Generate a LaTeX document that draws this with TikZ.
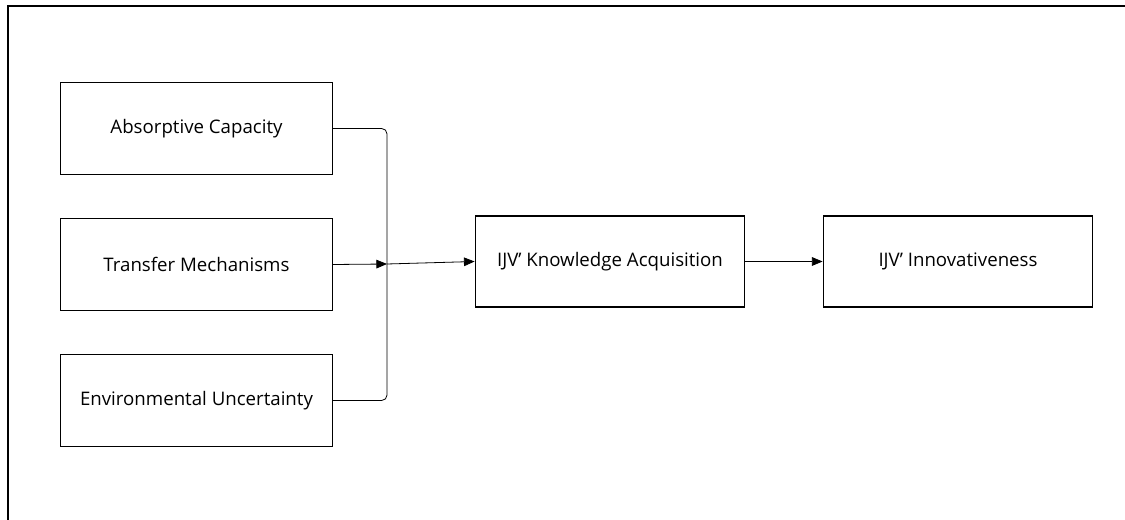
\documentclass[tikz,border=0pt]{standalone}
\usepackage{fontspec}
\setmainfont{Open Sans}
\usetikzlibrary{arrows.meta,positioning}

\tikzset{
  factor/.style = {draw, line width=1.1pt, minimum width=204pt, minimum height=69pt,
                   inner sep=0pt, font=\fontsize{14}{16}\selectfont},
  outcome/.style = {factor, minimum width=202pt, minimum height=68pt},
  link/.style = {line width=0.6pt},
  arrowlink/.style = {link, -{Triangle[length=8pt,width=6.5pt]}}
}

\begin{document}
\begin{tikzpicture}[x=0.75pt, y=-0.75pt, node distance = 102pt, on grid]
   \useasboundingbox (0,0) rectangle (1125,520);
   \draw[line width=1.1pt] (8,530) -- (8,6) -- (1135,6);
   % inputs
   \node[factor] (absorb) at (196.5,128.5) {Absorptive Capacity};
   \node[factor] (transfer) [below = of absorb] {Transfer Mechanisms};
   \node[factor] (environ) [below = of transfer] {Environmental Uncertainty};
   % outcomes
   \node[outcome] (acquire) at (610,261.5) {IJV’ Knowledge Acquisition};
   \node[outcome] (innov) [right = 261pt of acquire] {IJV’ Innovativeness};
   % connectors
   \coordinate (join) at (387,264);
   \draw[link, rounded corners=4pt] (absorb.east) -| (join);
   \draw[link, rounded corners=4pt] (environ.east) -| (join);
   \draw[arrowlink] (transfer.east) -- (join);
   \draw[arrowlink] (join) -- (acquire.west);
   \draw[arrowlink] (acquire) -- (innov);
\end{tikzpicture}
\end{document}
